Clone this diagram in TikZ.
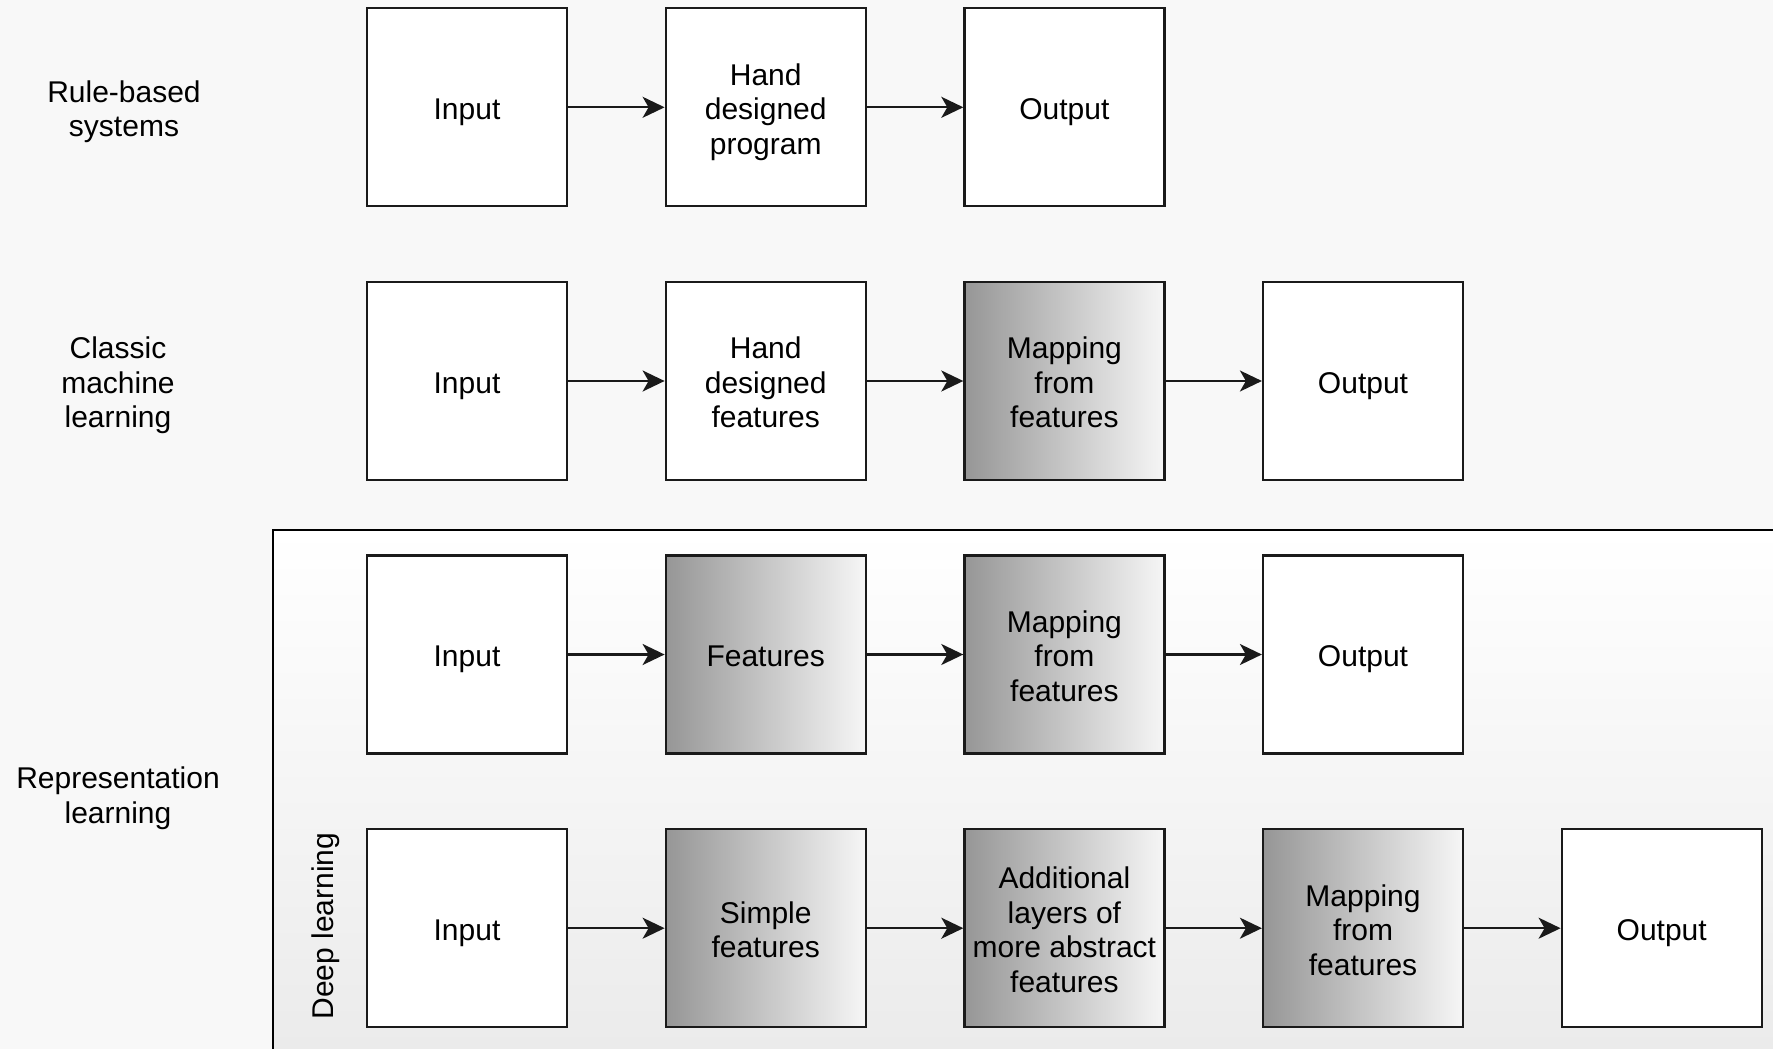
\documentclass[tikz,border=0pt]{standalone}
\usepackage{fontspec}
\setmainfont{Liberation Sans}
\usetikzlibrary{arrows.meta}

\definecolor{pagebg}{RGB}{248,248,248}
\definecolor{groupbot}{RGB}{235,235,235}
\definecolor{stroke}{RGB}{26,26,26}
\definecolor{graddark}{RGB}{150,150,150}
\definecolor{gradlight}{RGB}{246,246,246}

% fixed ascent on the first line and fixed descent on the last one, so that
% every text block is centred by its lines rather than by its glyphs
\newcommand{\topline}{\rule{0pt}{31.8pt}}
\newcommand{\bottomline}{\rule[-7pt]{0pt}{7pt}}
\newcommand{\lines}[1]{\topline#1\bottomline}

\tikzset{
  labeltext/.style={align=center, font=\fontsize{30}{34.5}\selectfont},
  box/.style={labeltext, draw=stroke, line width=2.2pt, fill=white,
    minimum width=200pt, minimum height=198pt, inner sep=0pt},
  shadedbox/.style={box, left color=graddark, right color=gradlight},
  rowlabel/.style={labeltext},
  flow/.style={draw=stroke, line width=2.2pt,
    -{Stealth[length=22pt, width=21pt, inset=6pt]}},
}

\begin{document}
\begin{tikzpicture}[x=1pt, y=-1pt]
  % page and background
  \useasboundingbox (0,0) rectangle (1773,1049);
  \fill[pagebg] (0,0) rectangle (1773,1049);

  % representation-learning group, running past the right and bottom edges
  \begin{scope}
    \clip (0,0) rectangle (1773,1049);
    \shade[top color=white, bottom color=groupbot]
      (272.7,530) rectangle (1790,1049);
    \draw[stroke, line width=2.2pt] (272.7,1070) -- (272.7,530) -- (1790,530);
  \end{scope}

  % row labels
  \node[rowlabel] (lrule) at (124,107) {\lines{Rule-based\\systems}};
  \node[rowlabel] (lclassic) at (118,381) {\lines{Classic\\machine\\learning}};
  \node[rowlabel] (lrepr) at (118,793.5) {\lines{Representation\\learning}};
  \node[labeltext, rotate=90] (ldeep) at (326,926) {Deep learning};

  % rule-based systems
  \node[box] (a1) at (467,107.3) {\lines{Input}};
  \node[box] (a2) at (765.7,107.3) {\lines{Hand\\designed\\program}};
  \node[box] (a3) at (1064.4,107.3) {\lines{Output}};

  % classic machine learning
  \node[box] (b1) at (467,381) {\lines{Input}};
  \node[box] (b2) at (765.7,381) {\lines{Hand\\designed\\features}};
  \node[shadedbox] (b3) at (1064.4,381) {\lines{Mapping\\from\\features}};
  \node[box] (b4) at (1363,381) {\lines{Output}};

  % representation learning
  \node[box] (c1) at (467,654.5) {\lines{Input}};
  \node[shadedbox] (c2) at (765.7,654.5) {\lines{Features}};
  \node[shadedbox] (c3) at (1064.4,654.5) {\lines{Mapping\\from\\features}};
  \node[box] (c4) at (1363,654.5) {\lines{Output}};

  % deep learning
  \node[box] (d1) at (467,928.2) {\lines{Input}};
  \node[shadedbox] (d2) at (765.7,928.2) {\lines{Simple\\features}};
  \node[shadedbox] (d3) at (1064.4,928.2) {\lines{Additional\\layers of\\more abstract\\features}};
  \node[shadedbox] (d4) at (1363,928.2) {\lines{Mapping\\from\\features}};
  \node[box] (d5) at (1661.7,928.2) {\lines{Output}};

  % connectors
  \draw[flow] (a1) -- (a2);
  \draw[flow] (a2) -- (a3);
  \draw[flow] (b1) -- (b2);
  \draw[flow] (b2) -- (b3);
  \draw[flow] (b3) -- (b4);
  \draw[flow] (c1) -- (c2);
  \draw[flow] (c2) -- (c3);
  \draw[flow] (c3) -- (c4);
  \draw[flow] (d1) -- (d2);
  \draw[flow] (d2) -- (d3);
  \draw[flow] (d3) -- (d4);
  \draw[flow] (d4) -- (d5);
\end{tikzpicture}
\end{document}
